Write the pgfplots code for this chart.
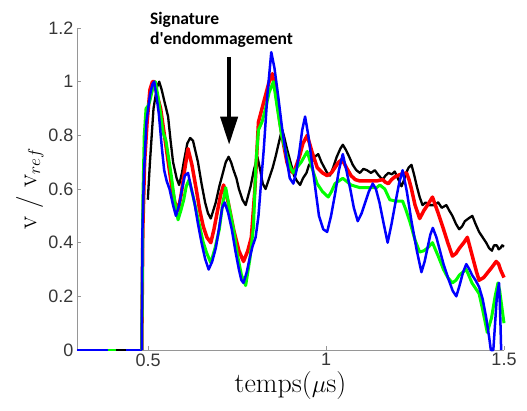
\documentclass[border=0pt]{standalone}
\usepackage{fontspec}
\usepackage{pgfplots}
\pgfplotsset{compat=1.18}
\usetikzlibrary{arrows.meta}
\newfontfamily\tickfont{Liberation Sans}
\newfontfamily\notefont{Carlito}
\definecolor{tickgray}{RGB}{55,55,55}
\definecolor{axgray}{RGB}{150,150,150}
\begin{document}
\begin{tikzpicture}
\useasboundingbox (-77pt,-60pt) rectangle (450pt,350pt);
\begin{axis}[
  at={(0pt,0pt)}, anchor=south west,
  scale only axis, width=427pt, height=322pt,
  xmin=0.3, xmax=1.5, ymin=0, ymax=1.2,
  axis lines*=left,
  axis line style={axgray, line width=0.8pt},
  xtick={0.5,1,1.5}, ytick={0,0.2,0.4,0.6,0.8,1,1.2},
  tick align=inside, major tick length=4pt,
  tick style={axgray, line width=0.8pt},
  /pgf/number format/assume math mode=true,
  tick label style={font=\tickfont\fontsize{18}{20}\selectfont, text=tickgray},
  xlabel={temps($\mu$s)},
  ylabel={v / v$_{ref}$},
  xlabel style={font=\fontsize{28}{32}\selectfont, yshift=2pt},
  ylabel style={font=\fontsize{27}{30}\selectfont, yshift=-2pt},
  clip=false,
  line join=round,
]
% baseline (blue) 
\addplot[blue, line width=2.5pt] coordinates {(0.3,0) (0.482,0)};
% black
\addplot[black, line width=2.3pt] coordinates {
(0.499,0.56) (0.505,0.70) (0.515,0.90) (0.525,0.98) (0.531,1.0) (0.538,0.97) (0.545,0.93) (0.556,0.87) (0.563,0.78) (0.57,0.70) (0.58,0.64) (0.587,0.615) (0.595,0.66) (0.60,0.70) (0.61,0.77) (0.618,0.79) (0.626,0.78) (0.633,0.74) (0.64,0.70) (0.65,0.62) (0.66,0.55) (0.668,0.51) (0.676,0.49) (0.683,0.52) (0.69,0.55) (0.70,0.61) (0.71,0.66) (0.718,0.70) (0.726,0.72) (0.733,0.70) (0.74,0.67) (0.748,0.64) (0.755,0.60) (0.765,0.56) (0.774,0.54) (0.78,0.57) (0.788,0.61) (0.797,0.67) (0.807,0.72) (0.815,0.67) (0.822,0.62) (0.83,0.60) (0.84,0.64) (0.85,0.68) (0.858,0.72) (0.865,0.76) (0.872,0.80) (0.877,0.82) (0.883,0.79) (0.89,0.75) (0.90,0.70) (0.91,0.65) (0.918,0.63) (0.927,0.615) (0.935,0.64) (0.945,0.66) (0.952,0.69) (0.96,0.70) (0.968,0.72) (0.978,0.73) (0.987,0.70) (0.995,0.68) (1.003,0.66) (1.011,0.65) (1.02,0.68) (1.03,0.72) (1.04,0.75) (1.047,0.765) (1.056,0.745) (1.065,0.72) (1.075,0.69) (1.085,0.67) (1.095,0.66) (1.105,0.675) (1.115,0.67) (1.126,0.66) (1.137,0.67) (1.148,0.65) (1.159,0.635) (1.167,0.65) (1.175,0.66) (1.185,0.655) (1.193,0.665) (1.2,0.645) (1.205,0.63) (1.212,0.61) (1.218,0.63) (1.225,0.66) (1.232,0.68) (1.24,0.69) (1.248,0.65) (1.255,0.61) (1.263,0.57) (1.271,0.54) (1.28,0.55) (1.29,0.54) (1.304,0.54) (1.315,0.55) (1.325,0.53) (1.338,0.54) (1.346,0.52) (1.355,0.50) (1.365,0.47) (1.374,0.45) (1.382,0.46) (1.39,0.48) (1.40,0.49) (1.411,0.50) (1.42,0.47) (1.43,0.44) (1.44,0.42) (1.45,0.40) (1.458,0.38) (1.466,0.37) (1.472,0.39) (1.48,0.39) (1.485,0.375) (1.49,0.38) (1.495,0.39) (1.50,0.385)};
% red
\addplot[red, line width=3.5pt] coordinates {
(0.482,0) (0.485,0.45) (0.49,0.70) (0.497,0.85) (0.505,0.97) (0.512,1.0) (0.517,1.0) (0.525,0.95) (0.535,0.90) (0.55,0.76) (0.565,0.62) (0.575,0.55) (0.584,0.52) (0.593,0.58) (0.60,0.65) (0.612,0.75) (0.623,0.69) (0.635,0.60) (0.645,0.52) (0.655,0.46) (0.665,0.42) (0.676,0.40) (0.685,0.45) (0.695,0.52) (0.704,0.58) (0.712,0.615) (0.725,0.55) (0.74,0.45) (0.755,0.37) (0.768,0.33) (0.78,0.37) (0.79,0.42) (0.80,0.60) (0.81,0.85) (0.82,0.90) (0.83,0.95) (0.84,1.0) (0.849,1.03) (0.86,0.95) (0.87,0.85) (0.88,0.77) (0.89,0.70) (0.898,0.67) (0.908,0.66) (0.917,0.69) (0.925,0.72) (0.935,0.77) (0.947,0.80) (0.96,0.74) (0.975,0.68) (0.99,0.66) (1.003,0.65) (1.015,0.66) (1.025,0.68) (1.035,0.70) (1.045,0.71) (1.057,0.68) (1.07,0.65) (1.082,0.635) (1.095,0.63) (1.12,0.63) (1.142,0.63) (1.159,0.635) (1.167,0.625) (1.175,0.62) (1.184,0.635) (1.193,0.645) (1.21,0.655) (1.226,0.66) (1.233,0.635) (1.24,0.60) (1.25,0.54) (1.263,0.49) (1.275,0.52) (1.285,0.54) (1.299,0.57) (1.315,0.51) (1.33,0.45) (1.342,0.40) (1.355,0.35) (1.365,0.36) (1.375,0.38) (1.387,0.40) (1.397,0.42) (1.405,0.38) (1.415,0.33) (1.423,0.29) (1.43,0.26) (1.443,0.27) (1.455,0.29) (1.467,0.31) (1.478,0.33) (1.485,0.32) (1.49,0.30) (1.495,0.285) (1.50,0.27)};
% green
\addplot[green, line width=3pt] coordinates {
(0.482,0) (0.485,0.55) (0.489,0.80) (0.494,0.90) (0.50,0.91) (0.505,0.93) (0.512,0.97) (0.52,1.0) (0.527,0.95) (0.535,0.88) (0.542,0.81) (0.55,0.78) (0.557,0.72) (0.565,0.65) (0.575,0.55) (0.584,0.485) (0.592,0.52) (0.60,0.56) (0.607,0.61) (0.615,0.635) (0.625,0.58) (0.635,0.52) (0.645,0.46) (0.655,0.40) (0.665,0.36) (0.676,0.325) (0.688,0.38) (0.70,0.45) (0.71,0.55) (0.718,0.605) (0.728,0.53) (0.74,0.45) (0.75,0.36) (0.762,0.28) (0.774,0.24) (0.786,0.34) (0.796,0.46) (0.803,0.70) (0.810,0.82) (0.82,0.85) (0.83,0.90) (0.84,0.96) (0.852,1.0) (0.862,0.91) (0.875,0.80) (0.89,0.72) (0.9,0.68) (0.908,0.66) (0.918,0.68) (0.93,0.70) (0.947,0.74) (0.96,0.68) (0.975,0.62) (0.99,0.59) (1.006,0.57) (1.015,0.59) (1.025,0.62) (1.047,0.64) (1.07,0.615) (1.095,0.605) (1.12,0.605) (1.142,0.605) (1.151,0.615) (1.165,0.60) (1.179,0.56) (1.195,0.555) (1.215,0.555) (1.225,0.52) (1.235,0.48) (1.25,0.41) (1.263,0.365) (1.275,0.37) (1.285,0.38) (1.299,0.40) (1.315,0.35) (1.33,0.30) (1.342,0.27) (1.355,0.25) (1.365,0.26) (1.375,0.28) (1.394,0.30) (1.41,0.25) (1.43,0.21) (1.44,0.15) (1.453,0.065) (1.465,0.12) (1.475,0.20) (1.483,0.25) (1.488,0.22) (1.492,0.18) (1.497,0.13) (1.50,0.10)};
% blue
\addplot[blue, line width=2.5pt] coordinates {
(0.482,0) (0.484,0.45) (0.488,0.65) (0.495,0.85) (0.505,0.95) (0.512,0.99) (0.517,1.0) (0.523,0.95) (0.530,0.88) (0.538,0.76) (0.545,0.67) (0.552,0.63) (0.56,0.60) (0.57,0.54) (0.578,0.50) (0.587,0.54) (0.595,0.60) (0.603,0.65) (0.612,0.66) (0.62,0.61) (0.63,0.55) (0.64,0.47) (0.65,0.40) (0.66,0.34) (0.67,0.30) (0.68,0.33) (0.69,0.38) (0.70,0.46) (0.708,0.53) (0.715,0.55) (0.725,0.51) (0.735,0.45) (0.745,0.37) (0.755,0.30) (0.762,0.26) (0.768,0.25) (0.777,0.29) (0.785,0.34) (0.793,0.385) (0.802,0.42) (0.810,0.50) (0.817,0.62) (0.825,0.75) (0.835,0.95) (0.846,1.11) (0.855,1.05) (0.865,0.95) (0.876,0.83) (0.888,0.72) (0.898,0.64) (0.908,0.62) (0.917,0.67) (0.925,0.74) (0.933,0.82) (0.941,0.87) (0.95,0.80) (0.96,0.70) (0.97,0.60) (0.98,0.50) (0.992,0.45) (1.003,0.44) (1.014,0.50) (1.025,0.58) (1.036,0.67) (1.047,0.73) (1.057,0.67) (1.068,0.60) (1.078,0.53) (1.089,0.48) (1.1,0.51) (1.11,0.55) (1.12,0.59) (1.131,0.62) (1.14,0.60) (1.15,0.55) (1.162,0.47) (1.173,0.40) (1.184,0.47) (1.195,0.55) (1.205,0.62) (1.215,0.67) (1.227,0.59) (1.24,0.48) (1.255,0.37) (1.268,0.29) (1.277,0.33) (1.285,0.38) (1.293,0.43) (1.30,0.455) (1.31,0.42) (1.32,0.37) (1.33,0.32) (1.345,0.26) (1.356,0.22) (1.366,0.20) (1.375,0.24) (1.385,0.29) (1.394,0.32) (1.403,0.30) (1.41,0.28) (1.42,0.26) (1.43,0.235) (1.44,0.19) (1.45,0.12) (1.458,0.05) (1.463,0) (1.47,0.0) (1.475,0.10) (1.48,0.20) (1.486,0.25) (1.488,0.18) (1.49,0.10) (1.492,0)};
% short zero segments visible on top of the blue baseline
\addplot[green, line width=2.5pt] coordinates {(0.386,0) (0.409,0)};
\addplot[black, line width=2.5pt] coordinates {(0.409,0) (0.437,0)};
% annotation
\draw[-{Triangle[width=17pt,length=28pt]}, line width=4pt, black]
  (axis cs:0.7275,1.092) -- (axis cs:0.7275,0.765);
\node[anchor=base west, align=left, inner sep=0pt,
      font=\notefont\bfseries\fontsize{17.5}{20}\selectfont]
  at (axis cs:0.505,1.14) {Signature\\d'endommagement};
\end{axis}
\end{tikzpicture}
\end{document}
